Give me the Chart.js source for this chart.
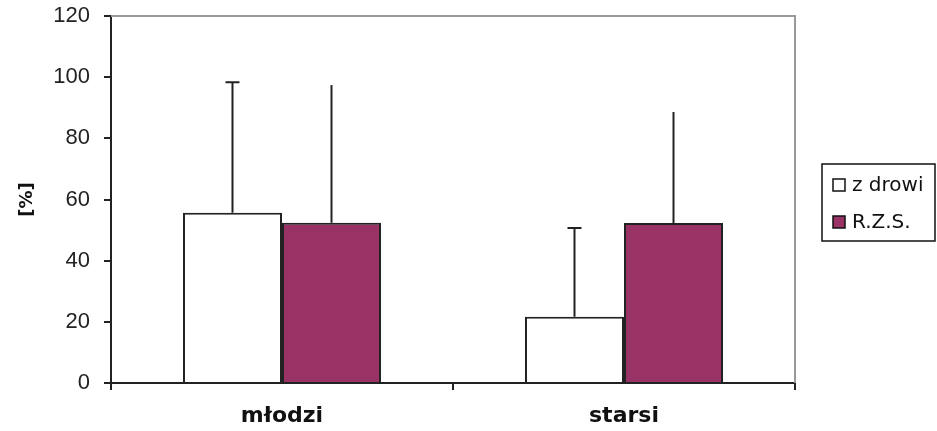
<!DOCTYPE html>
<html>
<head>
<meta charset="utf-8">
<script src="https://cdn.jsdelivr.net/npm/chart.js@4"></script>
<style>
  html, body { margin: 0; padding: 0; background: #fff; }
  #wrap { width: 937px; height: 431px; }
</style>
</head>
<body>
<div id="wrap"><canvas id="chart" width="937" height="431"></canvas></div>
<script>
// Chart data
const categories = ['młodzi', 'starsi'];
const seriesNames = ['z drowi', 'R.Z.S.'];
const zdrowiMean = [55.7, 21.7];
const zdrowiSD = [42.6, 29.0];
const rzsMean = [52.4, 52.3];
const rzsSD = [45.0, 36.3];
const yTicks = [0, 20, 40, 60, 80, 100, 120];

// Error bars drawn from the y scale of the chart
const errorBars = {
    id: 'errorBars',
    afterDatasetsDraw(chart) {
        const ctx = chart.ctx;
        const yScale = chart.scales.y;
        chart.data.datasets.forEach((ds, i) => {
            const meta = chart.getDatasetMeta(i);
            meta.data.forEach((bar, j) => {
                const top = yScale.getPixelForValue(ds.data[j] + ds.errors[j]);
                const base = yScale.getPixelForValue(ds.data[j]);
                ctx.save();
                ctx.strokeStyle = '#222';
                ctx.lineWidth = 2;
                ctx.beginPath();
                ctx.moveTo(bar.x, base);
                ctx.lineTo(bar.x, top);
                if (ds.capWidth) {
                    ctx.moveTo(bar.x - ds.capWidth / 2, top);
                    ctx.lineTo(bar.x + ds.capWidth / 2, top);
                }
                ctx.stroke();
                ctx.restore();
            });
        });
    }
};

// Grey frame at top/right and the boxed legend at the right
const frameAndLegend = {
    id: 'frameAndLegend',
    beforeDatasetsDraw(chart) {
        const { ctx, chartArea: a } = chart;
        ctx.save();
        ctx.strokeStyle = '#999';
        ctx.lineWidth = 2;
        ctx.beginPath();
        ctx.moveTo(a.left, a.top);
        ctx.lineTo(a.right, a.top);
        ctx.lineTo(a.right, a.bottom);
        ctx.stroke();
        ctx.restore();
    },
    afterDraw(chart) {
        const ctx = chart.ctx;
        const x0 = 822, y0 = 164, w = 113, h = 77;
        ctx.save();
        ctx.strokeStyle = '#111';
        ctx.lineWidth = 1.5;
        ctx.strokeRect(x0, y0, w, h);
        ctx.font = '20px "DejaVu Sans"';
        ctx.textBaseline = 'middle';
        chart.data.datasets.forEach((ds, i) => {
            const cy = 185 + i * 37;
            ctx.fillStyle = ds.backgroundColor;
            ctx.fillRect(833, cy - 6, 12, 12);
            ctx.strokeStyle = '#111';
            ctx.lineWidth = 1.5;
            ctx.strokeRect(833, cy - 6, 12, 12);
            ctx.fillStyle = '#111';
            ctx.fillText(ds.label, 852, cy + 1);
        });
        ctx.restore();
    }
};

new Chart(document.getElementById('chart'), {
    type: 'bar',
    data: {
        labels: categories,
        datasets: [
            {
                label: seriesNames[0],
                data: zdrowiMean,
                errors: zdrowiSD,
                capWidth: 14,
                backgroundColor: '#ffffff',
                borderColor: '#222',
                borderWidth: 2
            },
            {
                label: seriesNames[1],
                data: rzsMean,
                errors: rzsSD,
                capWidth: 0,
                backgroundColor: '#993366',
                borderColor: '#222',
                borderWidth: 2
            }
        ]
    },
    options: {
        responsive: false,
        animation: false,
        layout: { padding: { top: 16, right: 142, bottom: 0, left: 0 } },
        plugins: {
            legend: { display: false },
            tooltip: { enabled: false }
        },
        datasets: {
            bar: { categoryPercentage: 0.579, barPercentage: 1 }
        },
        scales: {
            x: {
                offset: true,
                grid: { offset: true, drawOnChartArea: false, drawTicks: true, tickLength: 7, color: '#222', lineWidth: 2 },
                border: { color: '#222', width: 2 },
                ticks: {
                    padding: 13,
                    color: '#111',
                    font: { family: 'DejaVu Sans', size: 22, weight: 'bold' }
                },
                afterFit: s => { s.height = 48; s.paddingLeft = 0; s.paddingRight = 0; }
            },
            y: {
                min: 0,
                max: 120,
                afterBuildTicks: s => { s.ticks = yTicks.map(v => ({ value: v })); },
                grid: { drawOnChartArea: false, drawTicks: true, tickLength: 7, color: '#222', lineWidth: 2 },
                border: { color: '#222', width: 2 },
                ticks: {
                    padding: 14,
                    color: '#222',
                    font: { family: '"Liberation Sans", Arial', size: 22 }
                },
                title: {
                    display: true,
                    text: '[%]',
                    color: '#111',
                    padding: { top: 17, bottom: 0 },
                    font: { family: 'DejaVu Sans', size: 18, weight: 'bold' }
                },
                afterFit: s => { s.width = 111; s.paddingTop = 0; s.paddingBottom = 0; }
            }
        }
    },
    plugins: [errorBars, frameAndLegend]
});
</script>
</body>
</html>
